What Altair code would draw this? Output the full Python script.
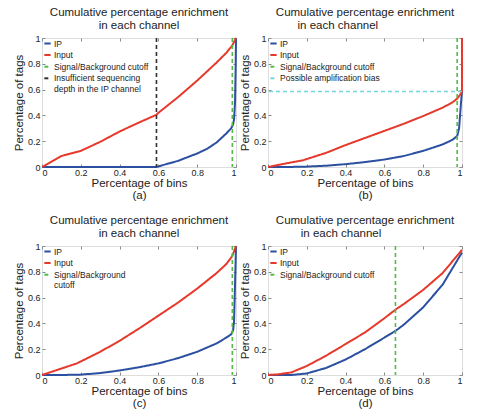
import altair as alt
import pandas as pd

FONT = "Liberation Sans"
BLUE = "#2b50a0"
RED = "#e6392b"
GREEN = "#56bb45"
BLACK = "#303030"
CYAN = "#74d6da"
TXT = "#222222"
GRAY = "#8a8a8a"

TITLE1 = "Cumulative percentage enrichment"
TITLE2 = "in each channel"

S_IP = "IP"
S_IN = "Input"
S_CUT = "Signal/Background cutoff"
S_CUT2 = "Signal/Background|cutoff"
S_INS = "Insufficient sequencing|depth in the IP channel"
S_AMP = "Possible amplification bias"

# ---- Panel (a)
a_ip_x = [0, 0.59, 0.6, 0.7, 0.8, 0.85, 0.9, 0.95, 0.975, 0.985, 0.99, 0.995, 0.998, 1.0]
a_ip_y = [0, 0, 0.005, 0.047, 0.105, 0.14, 0.19, 0.26, 0.30, 0.33, 0.37, 0.5, 0.75, 1.0]
a_in_x = [0, 0.1, 0.2, 0.3, 0.4, 0.5, 0.59, 0.6, 0.7, 0.8, 0.9, 0.95, 0.98, 1.0]
a_in_y = [0, 0.085, 0.125, 0.195, 0.275, 0.345, 0.405, 0.42, 0.54, 0.67, 0.81, 0.885, 0.94, 1.0]
a_green = 0.981
a_black = 0.59

# ---- Panel (b)
b_ip_x = [0, 0.1, 0.2, 0.3, 0.4, 0.5, 0.6, 0.7, 0.8, 0.9, 0.95, 0.975, 0.985, 0.99, 0.995, 1.0]
b_ip_y = [0, 0, 0.003, 0.01, 0.022, 0.038, 0.058, 0.085, 0.125, 0.175, 0.21, 0.24, 0.30, 0.40, 0.50, 0.585]
b_in_x = [0, 0.05, 0.1, 0.18, 0.3, 0.4, 0.5, 0.6, 0.7, 0.8, 0.9, 0.95, 0.975, 0.99, 1.0, 1.0]
b_in_y = [0, 0.015, 0.03, 0.052, 0.11, 0.17, 0.225, 0.28, 0.335, 0.395, 0.46, 0.50, 0.53, 0.56, 0.585, 1.0]
b_green = 0.975
b_cyan = 0.585

# ---- Panel (c)
c_ip_x = [0, 0.1, 0.2, 0.3, 0.4, 0.5, 0.6, 0.7, 0.8, 0.9, 0.95, 0.975, 0.985, 0.99, 0.995, 1.0]
c_ip_y = [0, 0, 0.003, 0.015, 0.035, 0.06, 0.09, 0.13, 0.18, 0.245, 0.29, 0.315, 0.345, 0.42, 0.7, 1.0]
c_in_x = [0, 0.1, 0.18, 0.3, 0.4, 0.5, 0.6, 0.7, 0.8, 0.9, 0.95, 0.98, 1.0]
c_in_y = [0, 0.05, 0.09, 0.18, 0.265, 0.36, 0.46, 0.56, 0.67, 0.79, 0.86, 0.92, 1.0]
c_green = 0.981

# ---- Panel (d)
d_ip_x = [0, 0.12, 0.2, 0.3, 0.4, 0.5, 0.6, 0.66, 0.7, 0.8, 0.9, 1.0]
d_ip_y = [0, 0, 0.012, 0.055, 0.12, 0.2, 0.29, 0.345, 0.39, 0.525, 0.70, 0.95]
d_in_x = [0, 0.05, 0.12, 0.2, 0.3, 0.4, 0.5, 0.6, 0.66, 0.7, 0.8, 0.9, 1.0]
d_in_y = [0, 0.005, 0.02, 0.07, 0.15, 0.24, 0.33, 0.44, 0.51, 0.55, 0.66, 0.79, 0.97]
d_green = 0.657

TICKS = [0, 0.2, 0.4, 0.6, 0.8, 1.0]
COLORS = {S_IP: BLUE, S_IN: RED, S_CUT: GREEN, S_CUT2: GREEN, S_INS: BLACK, S_AMP: CYAN}
DASHES = {S_IP: [1, 0], S_IN: [1, 0], S_CUT: [4, 3], S_CUT2: [4, 3], S_INS: [4, 3], S_AMP: [4, 3]}

W, H = 194, 129


def xs():
    return alt.Scale(domain=[0, 1], nice=False, zero=False)


def tick_axis(orient):
    return alt.Axis(orient=orient, values=TICKS, labels=False, domain=False, grid=False,
                    ticks=True, tickSize=3, tickColor=GRAY, tickWidth=1, offset=-3, title=None)


def panel(ip_x, ip_y, in_x, in_y, vcuts, hcuts, letter, shift_line2):
    rows = []
    for i, (x, y) in enumerate(zip(ip_x, ip_y)):
        rows.append({"x": x, "y": y, "series": S_IP, "ord": i})
    for i, (x, y) in enumerate(zip(in_x, in_y)):
        rows.append({"x": x, "y": y, "series": S_IN, "ord": i})
    df = pd.DataFrame(rows)
    items = [S_IP, S_IN] + [s for _, s in vcuts] + [s for _, s in hcuts]
    cscale = alt.Scale(domain=items, range=[COLORS[s] for s in items])
    dscale = alt.Scale(domain=items, range=[DASHES[s] for s in items])
    leg = alt.Legend(orient="top-left", title=None, offset=1, padding=0,
                     symbolType="stroke", symbolSize=40, symbolStrokeWidth=2,
                     labelFont=FONT, labelFontSize=8.5, labelColor=TXT, labelLimit=300,
                     labelOffset=2, rowPadding=2.6, labelExpr="split(datum.label, '|')")

    lines = alt.Chart(df).mark_line(strokeWidth=2).encode(
        x=alt.X("x:Q", scale=xs(), axis=alt.Axis(
            values=TICKS, format="~g", ticks=False, domain=False, grid=False,
            labelFont=FONT, labelFontSize=9, labelColor=TXT, labelPadding=1,
            title=["Percentage of bins", letter], titleFont=FONT, titleFontSize=11.5,
            titleFontWeight="normal", titleColor=TXT, titlePadding=0, titleLineHeight=12)),
        y=alt.Y("y:Q", scale=xs(), axis=alt.Axis(
            values=TICKS, format="~g", ticks=False, domain=False, grid=False,
            labelFont=FONT, labelFontSize=9, labelColor=TXT, labelPadding=2,
            title="Percentage of tags", titleFont=FONT, titleFontSize=11.5,
            titleFontWeight="normal", titleColor=TXT, titlePadding=3)),
        color=alt.Color("series:N", scale=cscale, legend=leg),
        strokeDash=alt.StrokeDash("series:N", scale=dscale, legend=leg),
        order="ord:Q",
    )
    layers = [lines]
    if vcuts:
        vdf = pd.DataFrame({"x": [v for v, _ in vcuts], "series": [s for _, s in vcuts]})
        layers.append(alt.Chart(vdf).mark_rule(strokeWidth=1.6).encode(
            x=alt.X("x:Q", scale=xs(), axis=None),
            color=alt.Color("series:N", scale=cscale, legend=leg),
            strokeDash=alt.StrokeDash("series:N", scale=dscale, legend=leg),
        ))
    if hcuts:
        hdf = pd.DataFrame({"y": [v for v, _ in hcuts], "series": [s for _, s in hcuts]})
        layers.append(alt.Chart(hdf).mark_rule(strokeWidth=1.6).encode(
            y=alt.Y("y:Q", scale=xs(), axis=None),
            color=alt.Color("series:N", scale=cscale, legend=leg),
            strokeDash=alt.StrokeDash("series:N", scale=dscale, legend=leg),
        ))
    tdf = pd.DataFrame({"x": [0.5], "y": [0.5]})
    layers.append(alt.Chart(tdf).mark_point(opacity=0).encode(
        x=alt.X("x:Q", scale=xs(), axis=tick_axis("bottom")),
        y=alt.Y("y:Q", scale=xs(), axis=tick_axis("left")),
    ))
    layers.append(alt.Chart(tdf).mark_point(opacity=0).encode(
        x=alt.X("x:Q", scale=xs(), axis=tick_axis("top")),
        y=alt.Y("y:Q", scale=xs(), axis=tick_axis("right")),
    ))
    line2 = TITLE2 + ("\u00a0" * shift_line2) + ("\u200b" if shift_line2 else "")
    return alt.layer(*layers).resolve_axis(x="independent", y="independent").properties(
        width=W, height=H,
        title=alt.TitleParams([TITLE1, line2], font=FONT, fontSize=11.5, fontWeight="normal",
                              color=TXT, anchor="middle", offset=3, lineHeight=12.5),
    )


pa = panel(a_ip_x, a_ip_y, a_in_x, a_in_y, [(a_green, S_CUT), (a_black, S_INS)], [], "(a)", 0)
pb = panel(b_ip_x, b_ip_y, b_in_x, b_in_y, [(b_green, S_CUT)], [(b_cyan, S_AMP)], "(b)", 17)
pc = panel(c_ip_x, c_ip_y, c_in_x, c_in_y, [(c_green, S_CUT2)], [], "(c)", 0)
pd_ = panel(d_ip_x, d_ip_y, d_in_x, d_in_y, [(d_green, S_CUT)], [], "(d)", 15)

row1 = alt.hconcat(pa, pb, spacing=-3).resolve_scale(color="independent", strokeDash="independent")
row2 = alt.hconcat(pc, pd_, spacing=-3).resolve_scale(color="independent", strokeDash="independent")

chart = alt.vconcat(row1, row2, spacing=13).resolve_scale(
    color="independent", strokeDash="independent"
).properties(
    padding={"left": 12, "top": 6, "right": 5, "bottom": 5},
).configure_view(stroke=GRAY, strokeWidth=1).configure(background="white")

chart.save("out.html", embed_options={"renderer": "svg", "actions": False})
